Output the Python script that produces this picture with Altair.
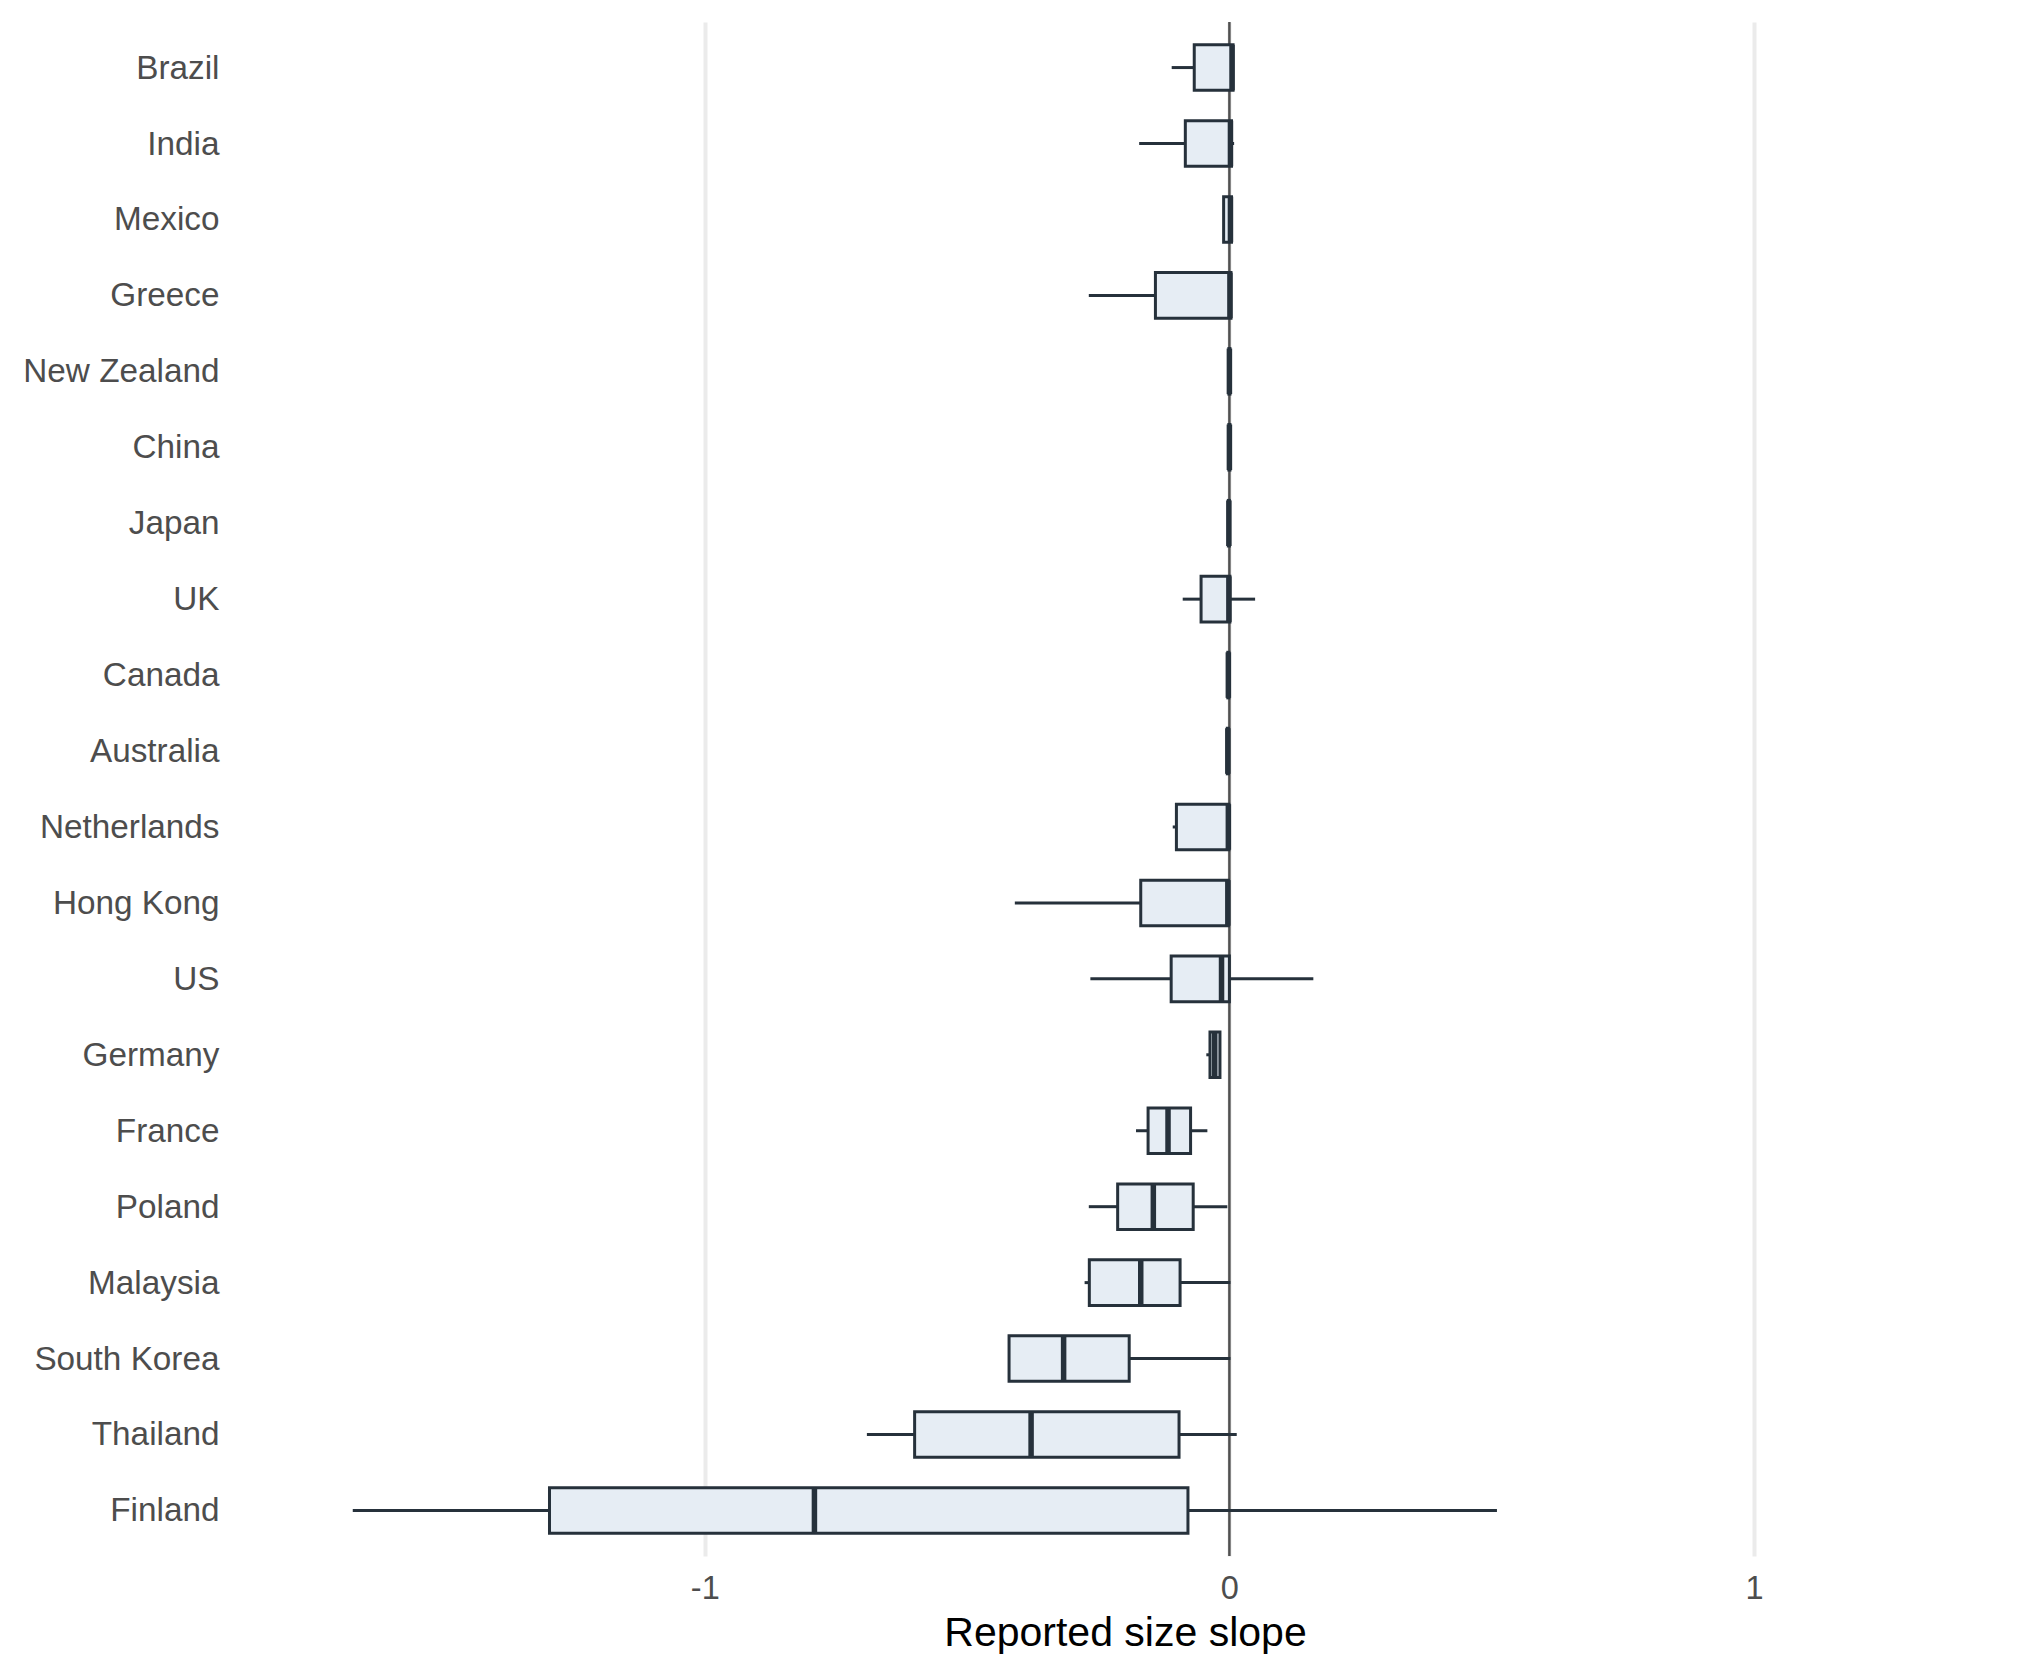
import altair as alt
import pandas as pd

countries = ["Brazil", "India", "Mexico", "Greece", "New Zealand", "China", "Japan",
             "UK", "Canada", "Australia", "Netherlands", "Hong Kong", "US", "Germany",
             "France", "Poland", "Malaysia", "South Korea", "Thailand", "Finland"]
whisker_low = [-0.110, -0.172, -0.012, -0.268, -0.002, -0.002, -0.003,
               -0.089, -0.004, -0.005, -0.108, -0.409, -0.265, -0.044,
               -0.178, -0.268, -0.276, -0.420, -0.691, -1.671]
q1 = [-0.067, -0.084, -0.011, -0.141, -0.001, -0.001, -0.002,
      -0.054, -0.003, -0.004, -0.101, -0.169, -0.111, -0.037,
      -0.155, -0.213, -0.267, -0.420, -0.600, -1.296]
median = [0.005, 0.002, 0.002, 0.001, 0.000, 0.000, -0.001,
          -0.001, -0.002, -0.003, -0.002, -0.003, -0.015, -0.028,
          -0.117, -0.145, -0.169, -0.316, -0.378, -0.791]
q3 = [0.007, 0.004, 0.004, 0.003, 0.001, 0.001, 0.000,
      0.001, -0.001, -0.002, -0.001, -0.002, 0.000, -0.018,
      -0.074, -0.069, -0.094, -0.191, -0.096, -0.079]
whisker_high = [0.007, 0.009, 0.004, 0.003, 0.002, 0.001, 0.000,
                0.049, -0.001, -0.002, -0.001, -0.002, 0.160, -0.018,
                -0.042, -0.004, 0.002, 0.002, 0.014, 0.510]

df = pd.DataFrame({
    "country": countries,
    "lo": whisker_low,
    "q1": q1,
    "median": median,
    "q3": q3,
    "hi": whisker_high,
})
zero_df = pd.DataFrame({"z": [0.0]})

DARK = "#26313B"
FILL = "#E6EDF4"
TITLE = "Reported size slope"

x_scale = alt.Scale(domain=[-1.905, 1.507], nice=False, zero=False)
x_axis = alt.Axis(values=[-1, 0, 1], grid=True, gridColor="#EBEBEB", gridWidth=4,
                  domain=False, ticks=False, tickSize=0, labelPadding=16,
                  labelFontSize=32.5, labelColor="#4D4D4D", labelFont="Liberation Sans",
                  labelExpr="'' + datum.value",
                  titleFontSize=41, titleColor="#000000", titleFontWeight="normal",
                  titleFont="Liberation Sans", titlePadding=9)
y_scale = alt.Scale(domain=countries, paddingInner=0.4, paddingOuter=0.3)
y_axis = alt.Axis(title=None, domain=False, ticks=False, tickSize=0, grid=False,
                  labelPadding=11, labelFontSize=33.3, labelColor="#4D4D4D",
                  labelFont="Liberation Sans", labelLimit=0, labelOffset=1,
                  minExtent=230, maxExtent=230)


def xenc(field):
    return alt.X(f"{field}:Q", scale=x_scale, axis=x_axis, title=TITLE)


def yenc(center=True):
    if center:
        return alt.Y("country:N", scale=y_scale, axis=y_axis, sort=countries, bandPosition=0.5)
    return alt.Y("country:N", scale=y_scale, axis=y_axis, sort=countries)


vline = alt.Chart(zero_df).mark_rule(color="#505050", strokeWidth=2.5).encode(
    x=xenc("z")
)

base = alt.Chart(df)
w_low = base.mark_rule(color=DARK, strokeWidth=3).encode(
    x=xenc("lo"), x2="q1:Q", y=yenc()
)
w_high = base.mark_rule(color=DARK, strokeWidth=3).encode(
    x=xenc("q3"), x2="hi:Q", y=yenc()
)
box = base.mark_bar(fill=FILL, stroke=DARK, strokeWidth=3).encode(
    x=xenc("q1"), x2="q3:Q", y=yenc(False)
)
med = base.mark_tick(color=DARK, thickness=5.5, size=45.6, opacity=1).encode(
    x=xenc("median"), y=yenc()
)

chart = alt.layer(vline, w_low, w_high, box, med).properties(
    width=1790, height=1534,
    padding={"left": 0, "top": 20, "right": 20, "bottom": 5},
    background="white",
).configure_view(stroke=None)

chart.save("out.html", embed_options={"renderer": "svg", "actions": False})
